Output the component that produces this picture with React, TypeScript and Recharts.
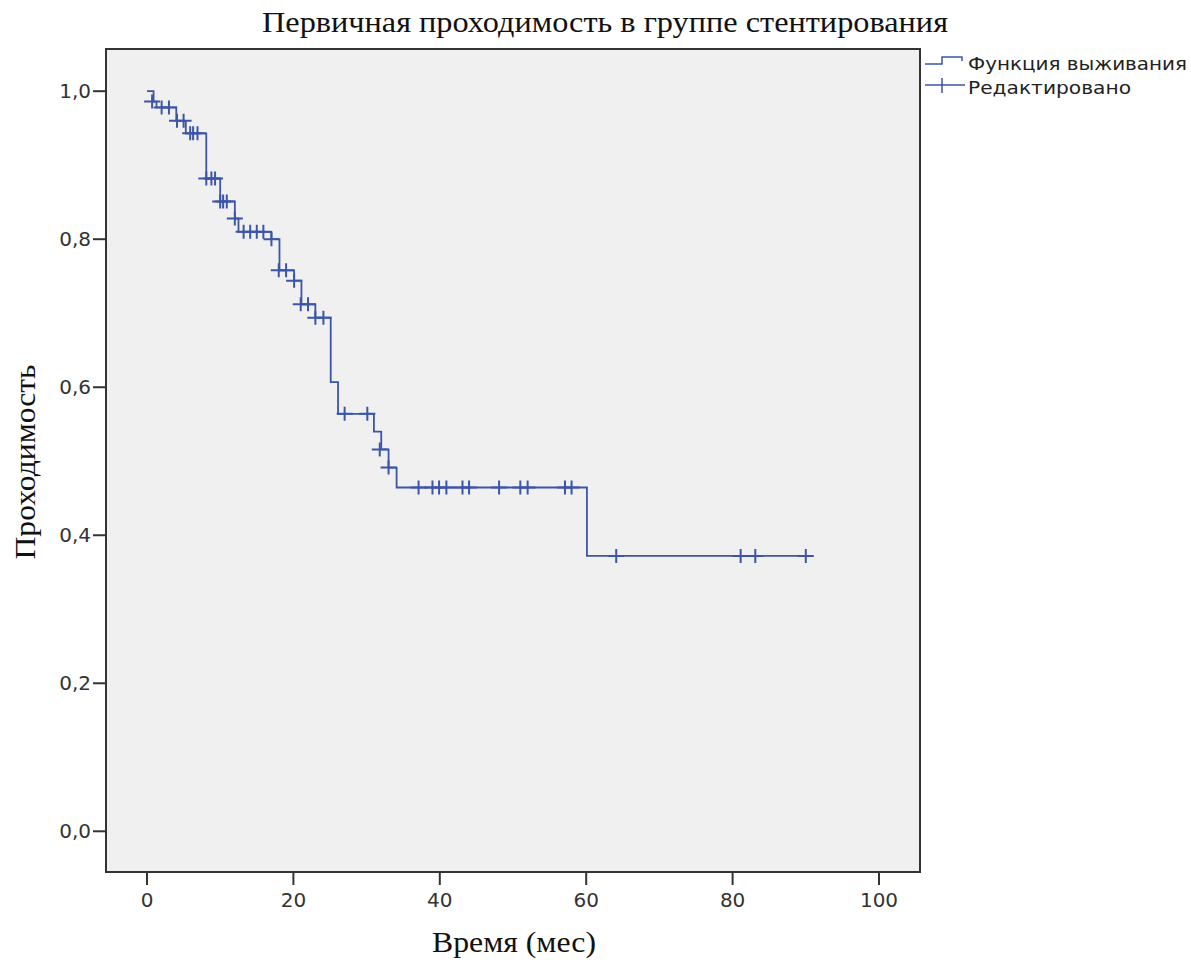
import React from 'react';
import { ComposedChart, Line, Scatter, XAxis, YAxis, ReferenceArea } from 'recharts';

const stepTimes = [0, 0.9, 1.3, 4.0, 5.3, 8.1, 10.0, 12.0, 12.5, 17.0, 18.1, 20.1, 21.1, 23.0, 25.1, 26.1, 31.0, 32.0, 33.0, 34.1, 60.1, 90.0];
const stepSurvival = [1.0, 0.986, 0.978, 0.96, 0.943, 0.882, 0.851, 0.828, 0.81, 0.8, 0.758, 0.744, 0.712, 0.694, 0.607, 0.564, 0.54, 0.516, 0.4915, 0.4645, 0.372, 0.372];

const censorTimes = [0.7, 2.0, 3.0, 4.1, 5.0, 5.9, 6.3, 6.9, 8.1, 8.8, 9.3, 10.0, 10.4, 10.9, 12.0, 13.2, 14.1, 15.0, 15.9, 17.0, 18.0, 19.0, 20.1, 21.0, 22.0, 23.0, 24.1, 27.0, 30.1, 31.8, 33.0, 37.1, 39.0, 39.9, 40.9, 43.1, 44.0, 48.1, 51.0, 52.0, 57.1, 58.0, 64.1, 81.1, 83.1, 90.0];
const censorSurvival = [0.986, 0.978, 0.978, 0.96, 0.96, 0.943, 0.943, 0.943, 0.882, 0.882, 0.882, 0.851, 0.851, 0.851, 0.828, 0.81, 0.81, 0.81, 0.81, 0.8, 0.758, 0.758, 0.744, 0.712, 0.712, 0.694, 0.694, 0.564, 0.564, 0.516, 0.4915, 0.4645, 0.4645, 0.4645, 0.4645, 0.4645, 0.4645, 0.4645, 0.4645, 0.4645, 0.4645, 0.4645, 0.372, 0.372, 0.372, 0.372];

const xTicks = [0, 20, 40, 60, 80, 100];
const yTicks = [0, 0.2, 0.4, 0.6, 0.8, 1.0];

const titleText = 'Первичная проходимость в группе стентирования';
const xLabel = 'Время (мес)';
const yLabel = 'Проходимость';
const legendLabels = ['Функция выживания', 'Редактировано'];

const stepData = stepTimes.map((t, i) => ({ t, s: stepSurvival[i] }));
const censorData = censorTimes.map((t, i) => ({ t, s: censorSurvival[i] }));

const BLUE = '#3c55a8';
const DARK = '#333333';

const Cross = (props: any) => {
  const { cx, cy } = props;
  if (cx == null || cy == null) return null;
  return (
    <path
      d={`M${cx - 8},${cy}H${cx + 8}M${cx},${cy - 7}V${cy + 7}`}
      stroke={BLUE}
      strokeWidth={2}
      fill="none"
    />
  );
};

const tickFont = { fontFamily: 'DejaVu Sans', fontSize: 20, fill: DARK };

export default function App() {
  return (
    <div style={{ position: 'absolute', left: 0, top: 0, width: 1191, height: 963, background: '#fff' }}>
      <ComposedChart
        width={1191}
        height={963}
        margin={{ top: 49, right: 271, bottom: 51, left: 46 }}
      >
        <XAxis
          type="number"
          dataKey="t"
          domain={[-5.6, 105.6]}
          ticks={xTicks}
          allowDataOverflow
          height={40}
          tickSize={13}
          tickMargin={8}
          axisLine={{ stroke: DARK, strokeWidth: 2 }}
          tickLine={{ stroke: DARK, strokeWidth: 2 }}
          tick={tickFont}
        />
        <YAxis
          type="number"
          dataKey="s"
          domain={[-0.055, 1.057]}
          ticks={yTicks}
          allowDataOverflow
          width={60}
          tickSize={13}
          tickMargin={2}
          axisLine={{ stroke: DARK, strokeWidth: 2 }}
          tickLine={{ stroke: DARK, strokeWidth: 2 }}
          tick={tickFont}
          tickFormatter={(v: number) => v.toFixed(1).replace('.', ',')}
        />
        <ReferenceArea
          x1={-5.6}
          x2={105.6}
          y1={-0.055}
          y2={1.057}
          fill="#f0f0f0"
          fillOpacity={1}
          stroke={DARK}
          strokeWidth={2}
        />
        <Line
          data={stepData}
          dataKey="s"
          type="stepAfter"
          stroke={BLUE}
          strokeWidth={1.8}
          dot={false}
          activeDot={false}
          isAnimationActive={false}
        />
        <Scatter
          data={censorData}
          dataKey="s"
          shape={Cross}
          isAnimationActive={false}
        />
      </ComposedChart>
      <svg
        width={1191}
        height={963}
        style={{ position: 'absolute', left: 0, top: 0, pointerEvents: 'none' }}
      >
        <text
          x={605}
          y={32}
          textAnchor="middle"
          fontFamily="Liberation Serif"
          fontSize={30}
          fill="#111"
          textLength={686}
          lengthAdjust="spacingAndGlyphs"
        >
          {titleText}
        </text>
        <text
          x={514}
          y={952}
          textAnchor="middle"
          fontFamily="Liberation Serif"
          fontSize={30}
          fill="#111"
          textLength={164}
          lengthAdjust="spacingAndGlyphs"
        >
          {xLabel}
        </text>
        <text
          x={0}
          y={0}
          transform="translate(35,462) rotate(-90)"
          textAnchor="middle"
          fontFamily="Liberation Serif"
          fontSize={30}
          fill="#111"
          textLength={195}
          lengthAdjust="spacingAndGlyphs"
        >
          {yLabel}
        </text>
        <path d="M925,64H942V57H962V61" stroke={BLUE} strokeWidth={1.5} fill="none" />
        <path d="M925,85H965M942,78V93" stroke={BLUE} strokeWidth={1.5} fill="none" />
        <text
          x={968}
          y={70}
          fontFamily="DejaVu Sans"
          fontSize={18}
          fill="#222"
          textLength={219}
          lengthAdjust="spacingAndGlyphs"
        >
          {legendLabels[0]}
        </text>
        <text
          x={968}
          y={94}
          fontFamily="DejaVu Sans"
          fontSize={18}
          fill="#222"
          textLength={163}
          lengthAdjust="spacingAndGlyphs"
        >
          {legendLabels[1]}
        </text>
      </svg>
    </div>
  );
}
